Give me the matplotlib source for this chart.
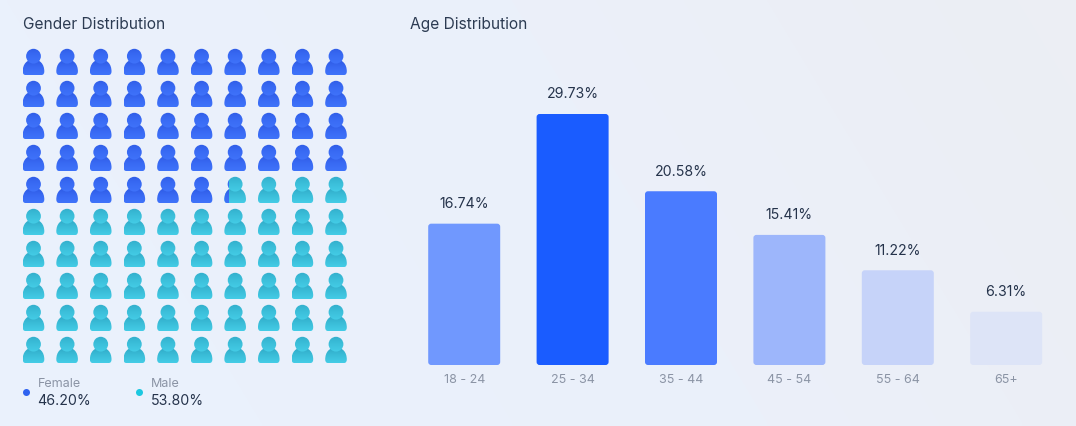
import numpy as np
import matplotlib
matplotlib.use("Agg")
import matplotlib.pyplot as plt
from matplotlib.colors import LinearSegmentedColormap
from matplotlib.patches import Circle, FancyBboxPatch, PathPatch
from matplotlib.path import Path

age_groups = ["18 - 24", "25 - 34", "35 - 44", "45 - 54", "55 - 64", "65+"]
age_shares = [16.74, 29.73, 20.58, 15.41, 11.22, 6.31]
bar_colors = ["#7098FE", "#1A5CFF", "#4A7BFF", "#9DB6FB", "#C6D3F9", "#DDE4F7"]

genders = ["Female", "Male"]
gender_shares = [46.20, 53.80]
gender_dots = ["#2F63F0", "#1CC8E0"]

W, H = 1076, 427
plt.rcParams["font.family"] = ["Inter", "DejaVu Sans"]

fig = plt.figure(figsize=(W / 100, H / 100), dpi=100)


def px_axes(left, top, right, bottom, **kw):
    return fig.add_axes([left / W, 1 - bottom / H, (right - left) / W, (bottom - top) / H], **kw)


# soft background gradient, bluish on the left and greyer top right
bg = px_axes(0, 0, W, H)
bg_cmap = LinearSegmentedColormap.from_list("bg", ["#EAF1FC", "#EBF0FA", "#ECEEF4"])
xx, yy = np.meshgrid(np.linspace(0, 1, 200), np.linspace(0, 1, 80))
bg.imshow(np.clip(xx * 1.05 - 0.25 * yy, 0, 1), cmap=bg_cmap, vmin=0, vmax=1, aspect="auto",
          extent=(0, W, H, 0), interpolation="bilinear")
bg.axis("off")

# pixel coordinates for the pictogram and the text
ax = px_axes(0, 0, W, H)
ax.patch.set_alpha(0)
ax.axis("off")

blue_grad = LinearSegmentedColormap.from_list("blue", ["#2C58E2", "#3869F3", "#3F73FA"])
teal_grad = LinearSegmentedColormap.from_list("teal", ["#2FA8C6", "#3ABDD8", "#44CCE6"])
grad = np.linspace(0, 1, 32).reshape(-1, 1)


def body_path(cx, top):
    verts = [(-10.8, 22.5), (-10.8, 15), (-6.5, 10.5), (0, 10.5), (6.5, 10.5), (10.8, 15), (10.8, 22.5),
             (10.8, 26), (8, 26), (-8, 26), (-10.8, 26), (-10.8, 22.5), (-10.8, 22.5)]
    codes = [Path.MOVETO] + [Path.CURVE4] * 6 + [Path.CURVE3] * 2 + [Path.LINETO] + [Path.CURVE3] * 2 + [Path.CLOSEPOLY]
    return Path([(cx + x, top + y) for x, y in verts], codes)


def draw_part(cmap, patch, x0, x1, y0, y1):
    patch.set(facecolor="none", edgecolor="none")
    ax.add_patch(patch)
    im = ax.imshow(grad, cmap=cmap, vmin=0, vmax=1, aspect="auto", extent=(x0, x1, y1, y0))
    im.set_clip_path(patch)


def draw_person(cx, top, cmap, frac=1.0):
    x0, x1 = cx - 10.8, cx - 10.8 + 21.6 * frac
    draw_part(cmap, PathPatch(body_path(cx, top)), x0, x1, top + 10, top + 26)
    draw_part(cmap, Circle((cx, top + 7.2), 7.4), x0, x1, top - 4, top + 15)


n_rows, n_cols = 10, 10
col_step = (336 - 33.5) / (n_cols - 1)
female_icons = gender_shares[0] / 100 * n_rows * n_cols
for i in range(n_rows * n_cols):
    r, c = divmod(i, n_cols)
    cx, top = 33.5 + c * col_step, 50 + r * 32
    part = min(max(female_icons - i, 0), 1)
    if part < 1:
        draw_person(cx, top, teal_grad)
    if part > 0:
        draw_person(cx, top, blue_grad, part)

ax.set_xlim(0, W)
ax.set_ylim(H, 0)

title_color = "#2C3B52"
ax.text(23, 29, "Gender Distribution", fontsize=11.2, color=title_color, va="baseline")
ax.text(410, 29, "Age Distribution", fontsize=11.2, color=title_color, va="baseline")

for name, share, dot, dx in zip(genders, gender_shares, gender_dots, [0, 113]):
    ax.add_patch(Circle((26.5 + dx, 393.5), 3.5, color=dot, lw=0))
    ax.text(37.5 + dx, 387.5, name, fontsize=9, color="#8B94A5", va="baseline")
    ax.text(37.5 + dx, 405, f"{share:.2f}%", fontsize=10.2, color="#25334B", va="baseline")

# age bars: baseline at y=365, 251px for the tallest
bar_ax = px_axes(410, 61, 1060, 366)
bar_ax.patch.set_alpha(0)
px_per_unit = 251 / max(age_shares)
step = 108.4
bar_ax.set_xlim((410 - 464.2) / step, (1060 - 464.2) / step)
bar_ax.set_ylim(0, 305 / px_per_unit)
x = np.arange(len(age_groups))
for xi, v, col in zip(x, age_shares, bar_colors):
    w = 72 / step
    bar_ax.add_patch(FancyBboxPatch((xi - w / 2, 0), w, v, boxstyle=f"round,pad=0,rounding_size={3 / step}",
                                    mutation_aspect=step / px_per_unit, facecolor=col, edgecolor="none"))
    bar_ax.annotate(f"{v:.2f}%", (xi, v), xytext=(0, 12), textcoords="offset points",
                    ha="center", va="baseline", fontsize=10.2, color="#25334B")

bar_ax.set_xticks(x, age_groups)
bar_ax.set_yticks([])
bar_ax.tick_params(axis="x", length=0, pad=6, labelsize=9, labelcolor="#8B94A5")
for s in bar_ax.spines.values():
    s.set_visible(False)

fig.savefig("out.png", dpi=100)
